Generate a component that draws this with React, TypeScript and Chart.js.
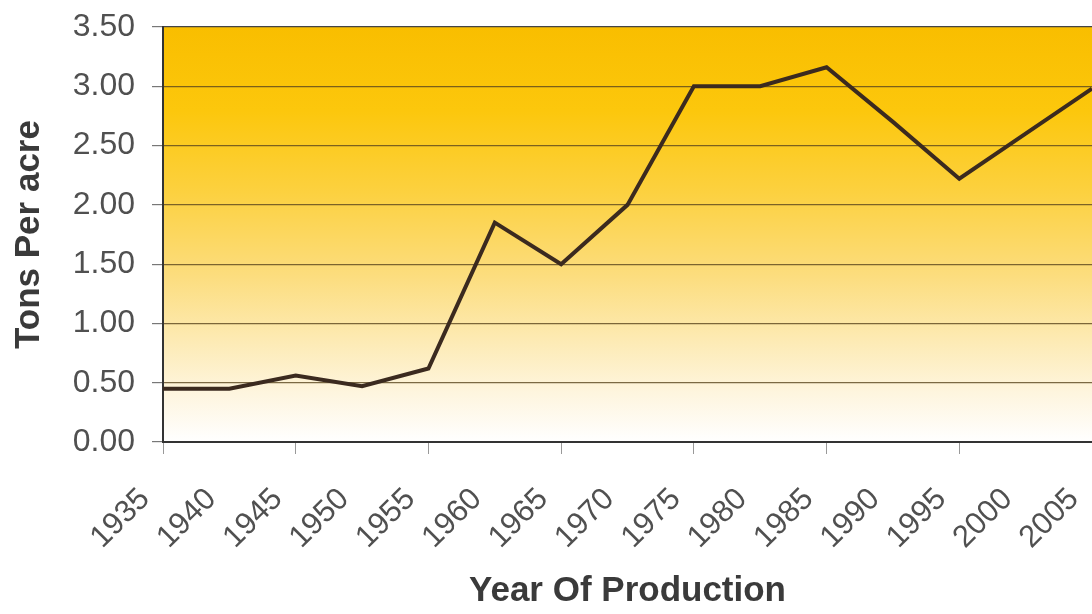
import React, { useEffect, useRef } from 'react';
import { Chart, registerables } from 'chart.js';

Chart.register(...registerables);

const years = ['1935', '1940', '1945', '1950', '1955', '1960', '1965', '1970', '1975', '1980', '1985', '1990', '1995', '2000', '2005'];
const tonsPerAcre = [0.45, 0.45, 0.56, 0.47, 0.62, 1.85, 1.5, 2.0, 3.0, 3.0, 3.16, 2.7, 2.22, 2.6, 2.98];
const yTicks = { min: 0, max: 3.5, step: 0.5 };

const FONT = "'Liberation Sans', Arial, sans-serif";

// yellow fade behind the plot area
const plotBackground = {
  id: 'plotBackground',
  beforeDraw(chart: Chart) {
    const { ctx, chartArea } = chart;
    if (!chartArea) return;
    const { left, top, right, bottom } = chartArea;
    const g = ctx.createLinearGradient(0, top, 0, bottom);
    g.addColorStop(0, '#F9BE00');
    g.addColorStop(0.2, '#FCC70C');
    g.addColorStop(0.4, '#FCD140');
    g.addColorStop(0.6, '#FCDD7E');
    g.addColorStop(0.75, '#FDEAB2');
    g.addColorStop(0.88, '#FEF5DE');
    g.addColorStop(1, '#FFFFFF');
    ctx.save();
    ctx.fillStyle = g;
    ctx.fillRect(left, top, right - left, bottom - top);
    ctx.restore();
  },
};

const App = () => {
  const canvasRef = useRef<HTMLCanvasElement>(null);

  useEffect(() => {
    if (!canvasRef.current) return;
    const chart = new Chart(canvasRef.current, {
      type: 'line',
      data: {
        labels: years,
        datasets: [{
          label: 'Tons Per acre',
          data: tonsPerAcre,
          borderColor: '#3b2a1f',
          borderWidth: 4,
          tension: 0,
          pointRadius: 0,
          fill: false,
        }],
      },
      options: {
        responsive: true,
        maintainAspectRatio: false,
        animation: false,
        layout: { padding: { top: 27, left: 0, right: 0, bottom: 0 } },
        plugins: {
          legend: { display: false },
          tooltip: { enabled: false },
        },
        scales: {
          x: {
            afterFit: (s: any) => {
              s.height = 172;
              s.paddingRight = 0;
              s.paddingLeft = 0;
            },
            border: { display: true, color: '#333', width: 2 },
            grid: {
              drawOnChartArea: false,
              tickLength: 12,
              color: (c: any) => (c.index % 2 === 0 ? '#999' : 'rgba(0,0,0,0)'),
            },
            ticks: {
              autoSkip: false,
              minRotation: 45,
              maxRotation: 45,
              padding: 27,
              labelOffset: -18,
              color: '#505050',
              font: { family: FONT, size: 31 },
            },
            title: {
              display: true,
              text: 'Year Of Production',
              color: '#3a3a3a',
              padding: { top: 0, bottom: 2 },
              font: { family: FONT, size: 35, weight: 'bold' },
            },
          },
          y: {
            min: yTicks.min,
            max: yTicks.max,
            afterFit: (s: any) => {
              s.width = 163;
              s.paddingTop = 0;
              s.paddingBottom = 0;
            },
            border: { display: true, color: '#333', width: 2 },
            grid: {
              tickLength: 11,
              lineWidth: 1.2,
              color: (c: any) => (c.tick && c.tick.value === yTicks.max ? '#444' : 'rgba(90,70,30,0.8)'),
              tickColor: '#777',
            },
            ticks: {
              stepSize: yTicks.step,
              padding: 17,
              color: '#505050',
              font: { family: FONT, size: 32 },
              callback: (v: any) => Number(v).toFixed(2),
            },
            title: {
              display: true,
              text: 'Tons Per acre',
              color: '#3a3a3a',
              padding: { top: 8, bottom: 0 },
              font: { family: FONT, size: 35, weight: 'bold' },
            },
          },
        },
      },
      plugins: [plotBackground],
    });
    return () => chart.destroy();
  }, []);

  return (
    <div style={{ position: 'fixed', left: 0, top: 0, width: 1092, height: 614, background: '#fff' }}>
      <canvas ref={canvasRef}></canvas>
    </div>
  );
};

export default App;
